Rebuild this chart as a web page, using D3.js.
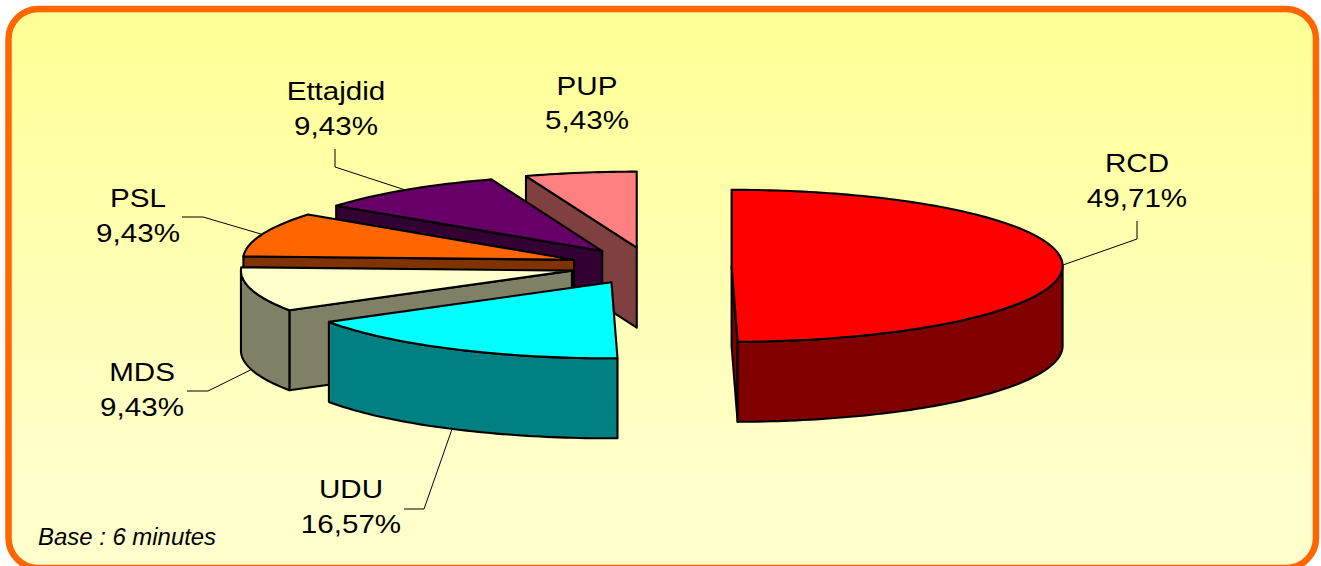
<!DOCTYPE html>
<html>
<head>
<meta charset="utf-8">
<style>html,body{margin:0;padding:0;background:#fff;overflow:hidden}svg{display:block}</style>
<script src="https://cdn.jsdelivr.net/npm/d3@7/dist/d3.min.js"></script>
</head>
<body>
<script>
// Data
const categories = ["RCD", "UDU", "MDS", "PSL", "Ettajdid", "PUP"];
const shares = [49.71, 16.57, 9.43, 9.43, 9.43, 5.43];
const note = "Base : 6 minutes";

// Styles
const topColors = ["#FF0000", "#00FFFF", "#FFFFCC", "#FF6600", "#660066", "#FF8080"];
const sideColors = ["#800000", "#008080", "#808066", "#803300", "#330033", "#804040"];
const W = 1321, H = 566;
const cx = 650.5, cy = 266, rx = 331, ry = 76, depth = 80, explode = 0.245;

// Label layout: centre x, first baseline, second baseline, leader elbow/start (null = no leader)
const labelLayout = [
  {x: 1137, y1: 172, y2: 207, leader: [[1137, 221], [1137, 239]], front: false},
  {x: 351,  y1: 498, y2: 533, leader: [[404, 509], [424, 509]], front: true},
  {x: 142,  y1: 381, y2: 416, leader: [[187, 391], [208, 391]], front: true},
  {x: 138,  y1: 207, y2: 242, leader: [[182, 217], [203, 217]], front: false},
  {x: 336,  y1: 100, y2: 135, leader: [[335, 149], [335, 167]], front: false},
  {x: 587,  y1: 95,  y2: 129, leader: null, front: false}
];

const svg = d3.select("body").append("svg").attr("width", W).attr("height", H);

const grad = svg.append("defs").append("linearGradient")
  .attr("id", "bg").attr("x1", 0).attr("y1", 0).attr("x2", 0).attr("y2", 1);
grad.append("stop").attr("offset", "0%").attr("stop-color", "#FFFF94");
grad.append("stop").attr("offset", "85%").attr("stop-color", "#FFFFCC");
grad.append("stop").attr("offset", "100%").attr("stop-color", "#FFFFCC");

svg.append("rect")
  .attr("x", 8.5).attr("y", 9).attr("width", 1307.5).attr("height", 559)
  .attr("rx", 30).attr("ry", 30)
  .attr("fill", "url(#bg)").attr("stroke", "#FF6600").attr("stroke-width", 6.5);

// Scales: unit circle -> projected ellipse
const px = d3.scaleLinear().domain([-1, 1]).range([cx - rx, cx + rx]);
const py = d3.scaleLinear().domain([-1, 1]).range([cy - ry, cy + ry]);

const pie = d3.pie().sort(null).value(d => d).startAngle(0).endAngle(2 * Math.PI);
const arcs = pie(shares);
const line = d3.line();
const fmt = d3.formatLocale({decimal: ",", thousands: " ", grouping: [3], currency: ["", ""]}).format(".2f");

function geom(d) {
  const mid = (d.startAngle + d.endAngle) / 2;
  const ox = Math.sin(mid) * explode, oy = -Math.cos(mid) * explode;
  const pt = (a, r = 1, dz = 0) => [
    px(ox + r * Math.sin(a)),
    py(oy - r * Math.cos(a)) + dz
  ];
  const arcPts = (a0, a1, dz = 0) => {
    const n = Math.max(2, Math.ceil((a1 - a0) / 0.02));
    return d3.range(n + 1).map(i => pt(a0 + (a1 - a0) * i / n, 1, dz));
  };
  return {mid, pt, arcPts};
}

const g = svg.append("g");
const style = sel => sel.attr("stroke", "#000").attr("stroke-width", 2.1).attr("stroke-linejoin", "round");

// Back-to-front paint order
const order = d3.range(arcs.length).reverse();
order.forEach(i => {
  const d = arcs[i], {pt, arcPts} = geom(d);
  const a0 = d.startAngle, a1 = d.endAngle;
  const side = sideColors[i], top = topColors[i];
  const apex = pt(0, 0);
  const wall = a => [apex, pt(a), pt(a, 1, depth), pt(0, 0, depth)];
  if (Math.sin(a0) < -1e-6) g.append("path").attr("d", line(wall(a0)) + "Z").attr("fill", side).call(style);
  if (Math.sin(a1) > 1e-6) g.append("path").attr("d", line(wall(a1)) + "Z").attr("fill", side).call(style);
  const f0 = Math.max(a0, Math.PI / 2), f1 = Math.min(a1, 3 * Math.PI / 2);
  if (f1 > f0) {
    const pts = arcPts(f0, f1).concat(arcPts(f0, f1, depth).reverse());
    g.append("path").attr("d", line(pts) + "Z").attr("fill", side).call(style);
  }
  g.append("path").attr("d", line([apex].concat(arcPts(a0, a1))) + "Z").attr("fill", top).call(style);
});

// Leaders and labels
arcs.forEach((d, i) => {
  const lay = labelLayout[i], {mid, pt} = geom(d);
  if (lay.leader) {
    const end = pt(mid, 1, lay.front ? depth : 0);
    svg.append("path").attr("d", line(lay.leader.concat([end])))
      .attr("fill", "none").attr("stroke", "#000").attr("stroke-width", 1);
  }
  [[categories[i], lay.y1], [fmt(shares[i]) + "%", lay.y2]].forEach(([t, y]) => {
    svg.append("text")
      .attr("transform", `translate(${lay.x},${y}) scale(1.16,1)`)
      .attr("text-anchor", "middle")
      .attr("font-family", "'Liberation Sans', Arial, sans-serif")
      .attr("font-size", 25.5)
      .attr("fill", "#000")
      .text(t);
  });
});

svg.append("text")
  .attr("transform", "translate(38,545) scale(1.04,1)")
  .attr("font-family", "'Liberation Sans', Arial, sans-serif")
  .attr("font-style", "italic")
  .attr("font-size", 23)
  .attr("fill", "#000")
  .text(note);
</script>
</body>
</html>
